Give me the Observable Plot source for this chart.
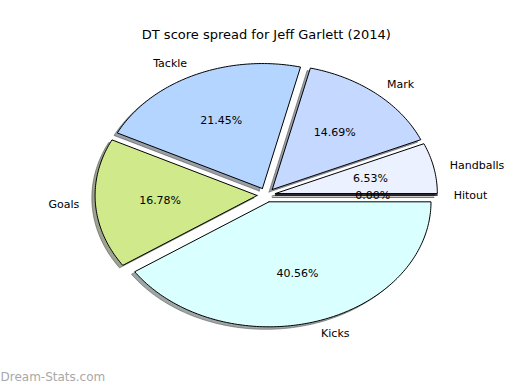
<!DOCTYPE html>
<html>
<head>
<meta charset="utf-8">
<script src="https://cdn.jsdelivr.net/npm/d3@7"></script>
<script src="https://cdn.jsdelivr.net/npm/@observablehq/plot@0.6"></script>
<style>
  html, body { margin: 0; padding: 0; background: #fff; }
  #chart { width: 520px; height: 390px; }
</style>
</head>
<body>
<div id="chart"></div>
<script>
// ---- data ----
const title = "DT score spread for Jeff Garlett (2014)";
const labels = ["Hitout", "Handballs", "Mark", "Tackle", "Goals", "Kicks"];
const values = [0.00, 6.53, 14.69, 21.45, 16.78, 40.56];
const colors = ["#f2f2ff", "#ebf1ff", "#c5d8ff", "#b4d5ff", "#d0e98a", "#d9ffff"];
const explode = [0.057, 0.057, 0.057, 0.057, 0.057, 0.057];
const watermark = "Dream-Stats.com";

// ---- build wedge geometry in data units (unit radius, counter-clockwise from 0) ----
const total = d3.sum(values);
const wedges = [];
const shadows = [];
const labelRows = [];
let cum = 0;
values.forEach((v, i) => {
  const t1 = cum / total * 2 * Math.PI;
  cum += v;
  const t2 = cum / total * 2 * Math.PI;
  const tm = (t1 + t2) / 2;
  const ox = explode[i] * Math.cos(tm);
  const oy = explode[i] * Math.sin(tm);
  const pts = [[ox, oy]];
  const n = Math.max(2, Math.ceil((t2 - t1) / (Math.PI / 180)));
  for (let k = 0; k <= n; k++) {
    const t = t1 + (t2 - t1) * k / n;
    pts.push([ox + Math.cos(t), oy + Math.sin(t)]);
  }
  pts.push([ox, oy]);
  const c = d3.rgb(colors[i]);
  const sc = d3.rgb(c.r * 0.3, c.g * 0.3, c.b * 0.3).formatHex();
  pts.forEach(([x, y]) => {
    wedges.push({label: labels[i], x, y, color: colors[i]});
    shadows.push({label: labels[i], x: x - 0.02, y: y - 0.02, color: sc});
  });
  labelRows.push({
    label: labels[i],
    lx: ox + 1.1 * Math.cos(tm), ly: oy + 1.1 * Math.sin(tm),
    px: ox + 0.6 * Math.cos(tm), py: oy + 0.6 * Math.sin(tm),
    pct: v.toFixed(2) + "%"
  });
});

const W = 520, H = 390;
const plot = Plot.plot({
  width: W, height: H,
  marginLeft: 63.3, marginRight: 51.7, marginTop: 38.25, marginBottom: 39.25,
  x: {domain: [-1.25, 1.25], axis: null},
  y: {domain: [-1.25, 1.25], axis: null},
  color: {type: "identity"},
  style: {fontFamily: "DejaVu Sans", fontSize: "11px", background: "white", color: "black"},
  marks: [
    Plot.line(shadows, {x: "x", y: "y", z: "label", fill: "color", fillOpacity: 0.5, stroke: "color", strokeOpacity: 0.5, strokeWidth: 1, curve: "linear"}),
    Plot.line(wedges, {x: "x", y: "y", z: "label", fill: "color", stroke: "black", strokeWidth: 1, strokeLinejoin: "miter", curve: "linear"}),
    Plot.text(labelRows.filter(d => d.lx > 0), {x: "lx", y: "ly", text: "label", textAnchor: "start", fill: "black", fontSize: 11}),
    Plot.text(labelRows.filter(d => d.lx <= 0), {x: "lx", y: "ly", text: "label", textAnchor: "end", fill: "black", fontSize: 11}),
    Plot.text(labelRows, {x: "px", y: "py", text: "pct", fill: "black", fontSize: 11}),
    Plot.text([title], {frameAnchor: "top", dy: -8.5, fontSize: 13, fill: "black"}),
    Plot.text([watermark], {frameAnchor: "bottom-left", dx: -63.3, dy: 29.5, textAnchor: "start", fontSize: 12, fill: "#a8a8a8"})
  ]
});
document.getElementById("chart").appendChild(plot);
</script>
</body>
</html>
